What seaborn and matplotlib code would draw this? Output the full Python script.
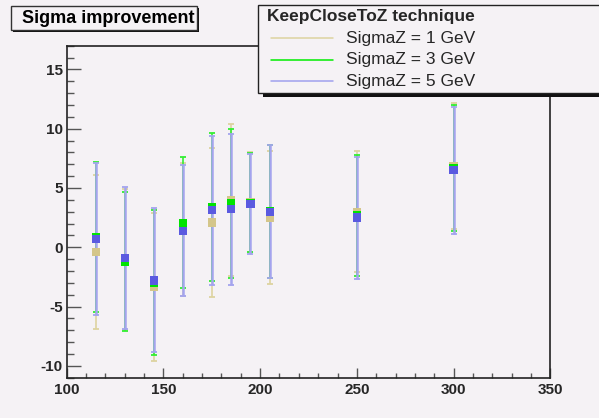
import numpy as np
import pandas as pd
import seaborn as sns
import matplotlib.pyplot as plt
from matplotlib.patches import Rectangle
from matplotlib.ticker import MultipleLocator

# data (Higgs mass points, GeV)
masses = [115, 130, 145, 160, 175, 185, 195, 205, 250, 300]

sigma1_val = [-0.4, -1.05, -3.35, 1.5, 2.1, 4.0, 3.8, 2.5, 3.0, 6.85]
sigma1_err = [6.5, 5.95, 6.2, 5.6, 6.3, 6.4, 4.2, 5.6, 5.1, 5.3]

sigma3_val = [0.85, -1.2, -2.97, 2.06, 3.37, 3.68, 3.76, 3.05, 2.7, 6.7]
sigma3_err = [6.35, 5.9, 6.1, 5.52, 6.24, 6.29, 4.16, 5.6, 5.12, 5.3]

sigma5_val = [0.7, -0.9, -2.8, 1.4, 3.12, 3.2, 3.63, 3.0, 2.5, 6.5]
sigma5_err = [6.4, 6.0, 6.07, 5.55, 6.27, 6.35, 4.22, 5.6, 5.15, 5.35]

labels = ["SigmaZ = 1 GeV", "SigmaZ = 3 GeV", "SigmaZ = 5 GeV"]
x_ticks = [100, 150, 200, 250, 300, 350]
y_ticks = [-10, -5, 0, 5, 10, 15]

rows = []
for lab, vals, errs in zip(labels, [sigma1_val, sigma3_val, sigma5_val],
                           [sigma1_err, sigma3_err, sigma5_err]):
    for m, v, e in zip(masses, vals, errs):
        rows.append({"mass": m, "value": v, "err": e, "series": lab})
df = pd.DataFrame(rows)

marker_col = {labels[0]: "#d4c68a", labels[1]: "#00e400", labels[2]: "#5a5ae0"}
bar_col = {labels[0]: "#ddd3a0", labels[1]: "#33ee33", labels[2]: "#a4a4ee"}
bar_lw = {labels[0]: 1.2, labels[1]: 1.2, labels[2]: 1.8}

sns.set_style("ticks")
bg = "#f5f2f5"
plt.rcParams["font.family"] = ["Liberation Sans", "DejaVu Sans"]
plt.rcParams["axes.unicode_minus"] = False

W, H = 599, 418
fig = plt.figure(figsize=(W / 100, H / 100), dpi=100, facecolor=bg)
ax = fig.add_axes([66.7 / W, 1 - 377.7 / H, (550.3 - 66.7) / W, (377.7 - 45.7) / H])
ax.set_facecolor(bg)

for lab in labels:
    d = df[df["series"] == lab]
    ax.errorbar(d["mass"], d["value"], yerr=d["err"], fmt="none",
                ecolor=bar_col[lab], elinewidth=bar_lw[lab], capsize=2.5,
                capthick=1.3, zorder=2)
    sns.scatterplot(data=d, x="mass", y="value", color=marker_col[lab],
                    marker="s", s=36, edgecolor="none", linewidth=0,
                    legend=False, ax=ax, zorder=3)

ax.set_xlim(100, 350)
ax.set_ylim(-11, 17)
ax.set_xticks(x_ticks)
ax.set_yticks(y_ticks)
ax.xaxis.set_minor_locator(MultipleLocator(10))
ax.yaxis.set_minor_locator(MultipleLocator(1))
ax.set_xlabel("")
ax.set_ylabel("")

for s in ax.spines.values():
    s.set_color("#222222")
    s.set_linewidth(1.2)
ax.tick_params(axis="both", which="both", direction="in", color="#555555",
               width=1.0, labelsize=11)
ax.tick_params(axis="y", which="major", length=10, pad=3)
ax.tick_params(axis="y", which="minor", length=5)
ax.tick_params(axis="x", which="major", length=7, pad=4)
ax.tick_params(axis="x", which="minor", length=3.6)
for t in ax.get_xticklabels() + ax.get_yticklabels():
    t.set_fontweight("bold")


def fx(px):
    return px / W


def fy(py):
    return 1 - py / H


# title box with shadow
fig.patches.append(Rectangle((fx(13), fy(32)), fx(186), fy(8) - fy(32),
                             transform=fig.transFigure, facecolor="#111111",
                             edgecolor="none", zorder=5))
fig.patches.append(Rectangle((fx(11), fy(30)), fx(186), fy(6) - fy(30),
                             transform=fig.transFigure, facecolor=bg,
                             edgecolor="#333333", linewidth=1.0, zorder=6))
fig.text(fx(22), fy(18.5), "Sigma improvement", fontsize=13, fontweight="bold",
         va="center", ha="left", color="black", zorder=7)

# legend box (runs off the right edge)
fig.patches.append(Rectangle((fx(263), fy(96.5)), fx(400), fy(8) - fy(96.5),
                             transform=fig.transFigure, facecolor="#111111",
                             edgecolor="none", zorder=5))
fig.patches.append(Rectangle((fx(258.3), fy(93.3)), fx(400), fy(5) - fy(93.3),
                             transform=fig.transFigure, facecolor=bg,
                             edgecolor="#222222", linewidth=1.0, zorder=6))
fig.text(fx(267), fy(17), "KeepCloseToZ technique", fontsize=12.5,
         fontweight="bold", va="center", ha="left", zorder=7)
legend_line_col = ["#ddd3a0", "#00ee00", "#a0a0ee"]
for i, lab in enumerate(labels):
    yy = fy(38.3 + i * 21.4)
    fig.add_artist(plt.Line2D([fx(271), fx(333)], [yy, yy], color=legend_line_col[i],
                              linewidth=1.1, transform=fig.transFigure, zorder=7))
    fig.text(fx(346.5), yy, lab, fontsize=12.5, va="center", ha="left", zorder=7)

fig.savefig("out.png", dpi=100, facecolor=bg)
